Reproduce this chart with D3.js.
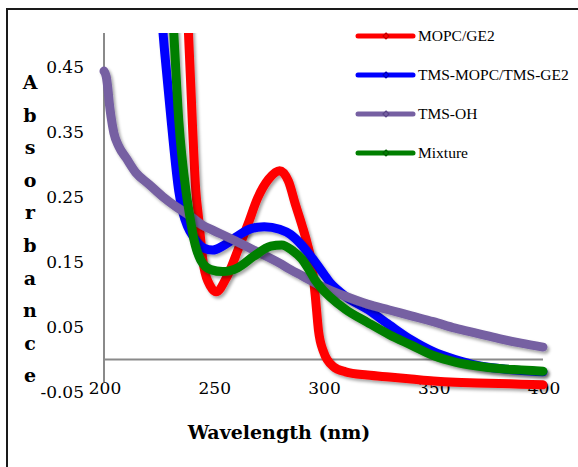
<!DOCTYPE html>
<html><head><meta charset="utf-8">
<script src="https://cdn.jsdelivr.net/npm/d3@7"></script>
<style>html,body{margin:0;padding:0;background:#fff;}svg{display:block;}</style>
</head><body>
<svg id="chart" width="578" height="467"></svg>
<script>
// ---- data ----
const seriesNames = ["MOPC/GE2", "TMS-MOPC/TMS-GE2", "TMS-OH", "Mixture"];
const seriesColors = ["#ff0000", "#0000ff", "#7660a2", "#007f00"];
const markerColors = ["#c00000", "#0000b0", "#5a4587", "#005f00"];

const redWl  = [236, 238.5, 240.3, 241.8, 243, 245.5, 248.6, 251, 256, 261, 265.5, 270, 275, 280, 284, 287.3, 290.3, 292.6, 294.5, 296.3, 297.7, 300, 304.5, 310, 320, 330, 340, 350, 360, 370, 380, 390, 400];
const redAbs = [0.62, 0.50, 0.36, 0.26, 0.22, 0.142, 0.112, 0.104, 0.127, 0.168, 0.207, 0.248, 0.277, 0.29, 0.274, 0.237, 0.205, 0.178, 0.15, 0.096, 0.045, 0.012, -0.011, -0.019, -0.024, -0.027, -0.03, -0.033, -0.035, -0.036, -0.037, -0.038, -0.039];

const blueWl  = [225, 226.7, 227.7, 230.8, 234.1, 236, 238, 241, 245.5, 249.5, 254.5, 261, 267, 273, 280, 285, 290, 295, 300, 303, 306, 310, 320, 330, 340, 350, 360, 370, 380, 390, 400];
const blueAbs = [0.6, 0.51, 0.47, 0.36, 0.258, 0.225, 0.205, 0.187, 0.171, 0.168, 0.175, 0.19, 0.201, 0.204, 0.2, 0.192, 0.176, 0.155, 0.132, 0.118, 0.108, 0.097, 0.077, 0.053, 0.03, 0.012, 0.0, -0.009, -0.014, -0.017, -0.019];

const purpleWl  = [200, 201, 201.7, 202.4, 203.2, 204.5, 206.8, 210, 214.5, 220.5, 226.8, 232.7, 238.6, 245, 250, 260, 267, 280, 285, 290, 300, 310, 320, 330, 340, 350, 360, 370, 380, 390, 400];
const purpleAbs = [0.443, 0.435, 0.418, 0.394, 0.373, 0.348, 0.327, 0.31, 0.287, 0.269, 0.25, 0.235, 0.222, 0.206, 0.198, 0.182, 0.17, 0.148, 0.138, 0.129, 0.111, 0.097, 0.085, 0.076, 0.067, 0.058, 0.048, 0.04, 0.032, 0.025, 0.019];

const greenWl  = [230, 231.7, 234.1, 237.3, 239.1, 241, 244, 248.6, 254, 261, 268, 276, 281, 286, 290, 293, 296, 300, 303, 310, 320, 330, 340, 350, 360, 370, 380, 390, 400];
const greenAbs = [0.6, 0.506, 0.366, 0.26, 0.22, 0.184, 0.153, 0.138, 0.135, 0.141, 0.158, 0.174, 0.176, 0.167, 0.155, 0.14, 0.123, 0.106, 0.096, 0.077, 0.057, 0.038, 0.022, 0.006, -0.004, -0.01, -0.014, -0.016, -0.018];

const xTicks = [200, 250, 300, 350, 400];
const yTicks = [-0.05, 0.05, 0.15, 0.25, 0.35, 0.45];
const yTickLabels = ["-0.05", "0.05", "0.15", "0.25", "0.35", "0.45"];
const yTitle = "Absorbance";
const xTitle = "Wavelength (nm)";

// ---- chart ----
const svg = d3.select("#chart");
const FONT = "'DejaVu Serif', serif";
const LFONT = "'Liberation Serif', serif";
const x = d3.scaleLinear().domain([200, 400]).range([104, 543]);
const y = d3.scaleLinear().domain([-0.05, 0.5]).range([392, 34]);

const defs = svg.append("defs");
defs.append("clipPath").attr("id", "plotclip")
  .append("rect").attr("x", 96).attr("y", y(0.5) - 1).attr("width", 470).attr("height", 380);
const f = defs.append("filter").attr("id", "shadow").attr("x", "-10%").attr("y", "-10%").attr("width", "130%").attr("height", "130%");
f.append("feDropShadow").attr("dx", 2).attr("dy", 2.5).attr("stdDeviation", 1.6)
  .attr("flood-color", "#000").attr("flood-opacity", 0.35);

// outer border
svg.append("rect").attr("x", 7).attr("y", 9).attr("width", 620).attr("height", 520)
  .attr("fill", "none").attr("stroke", "#1a1a1a").attr("stroke-width", 2);

// axes lines
svg.append("line").attr("x1", x(200)).attr("x2", x(200)).attr("y1", y(0.5) - 1).attr("y2", 382)
  .attr("stroke", "#8a8a8a").attr("stroke-width", 2);
svg.append("line").attr("x1", x(200)).attr("x2", x(400)).attr("y1", y(0)).attr("y2", y(0))
  .attr("stroke", "#8a8a8a").attr("stroke-width", 2);

// y tick labels
svg.append("g").selectAll("text").data(yTicks).join("text")
  .attr("x", 84).attr("y", d => y(d)).attr("dy", "0.38em")
  .attr("text-anchor", "end").attr("font-family", FONT).attr("font-size", 17).attr("fill", "#000")
  .text((d, i) => yTickLabels[i]);

// x tick labels
svg.append("g").selectAll("text").data(xTicks).join("text")
  .attr("x", d => x(d) + 1).attr("y", 394)
  .attr("text-anchor", "middle").attr("font-family", FONT).attr("font-size", 17).attr("fill", "#000")
  .text(d => d);

// y title stacked letters
svg.append("g").selectAll("text").data(yTitle.split("")).join("text")
  .attr("x", 30).attr("y", (d, i) => 89 + i * 32.6)
  .attr("text-anchor", "middle").attr("font-family", FONT).attr("font-weight", "bold")
  .attr("font-size", 19).attr("fill", "#000").text(d => d);

// x title
svg.append("text").attr("x", 279).attr("y", 439).attr("text-anchor", "middle")
  .attr("font-family", FONT).attr("font-weight", "bold").attr("font-size", 19).attr("fill", "#000")
  .text(xTitle);

// series
const series = [
  {wl: redWl, abs: redAbs},
  {wl: blueWl, abs: blueAbs},
  {wl: purpleWl, abs: purpleAbs},
  {wl: greenWl, abs: greenAbs}
];
const line = d3.line().x(d => x(d[0])).y(d => y(d[1])).curve(d3.curveMonotoneX);
const plot = svg.append("g").attr("clip-path", "url(#plotclip)");
series.forEach((s, i) => {
  const pts = s.wl.map((w, j) => [w, s.abs[j]]);
  plot.append("path").attr("d", line(pts)).attr("fill", "none")
    .attr("stroke", seriesColors[i]).attr("stroke-width", 9)
    .attr("stroke-linejoin", "round").attr("stroke-linecap", "round")
    .attr("filter", "url(#shadow)");
});

// legend
const lg = svg.append("g");
const legY = [36, 75, 114, 153];
seriesNames.forEach((n, i) => {
  lg.append("line").attr("x1", 358).attr("x2", 413).attr("y1", legY[i]).attr("y2", legY[i])
    .attr("stroke", seriesColors[i]).attr("stroke-width", 5).attr("stroke-linecap", "round");
  const m = 3;
  lg.append("path").attr("d", `M386,${legY[i]-m}L${386+m},${legY[i]}L386,${legY[i]+m}L${386-m},${legY[i]}Z`)
    .attr("fill", seriesColors[i]).attr("stroke", markerColors[i]).attr("stroke-width", 1.2);
  lg.append("text").attr("x", 418).attr("y", legY[i]).attr("dy", "0.34em")
    .attr("font-family", LFONT).attr("font-size", 15.5).attr("fill", "#000").text(n);
});
</script>
</body></html>
